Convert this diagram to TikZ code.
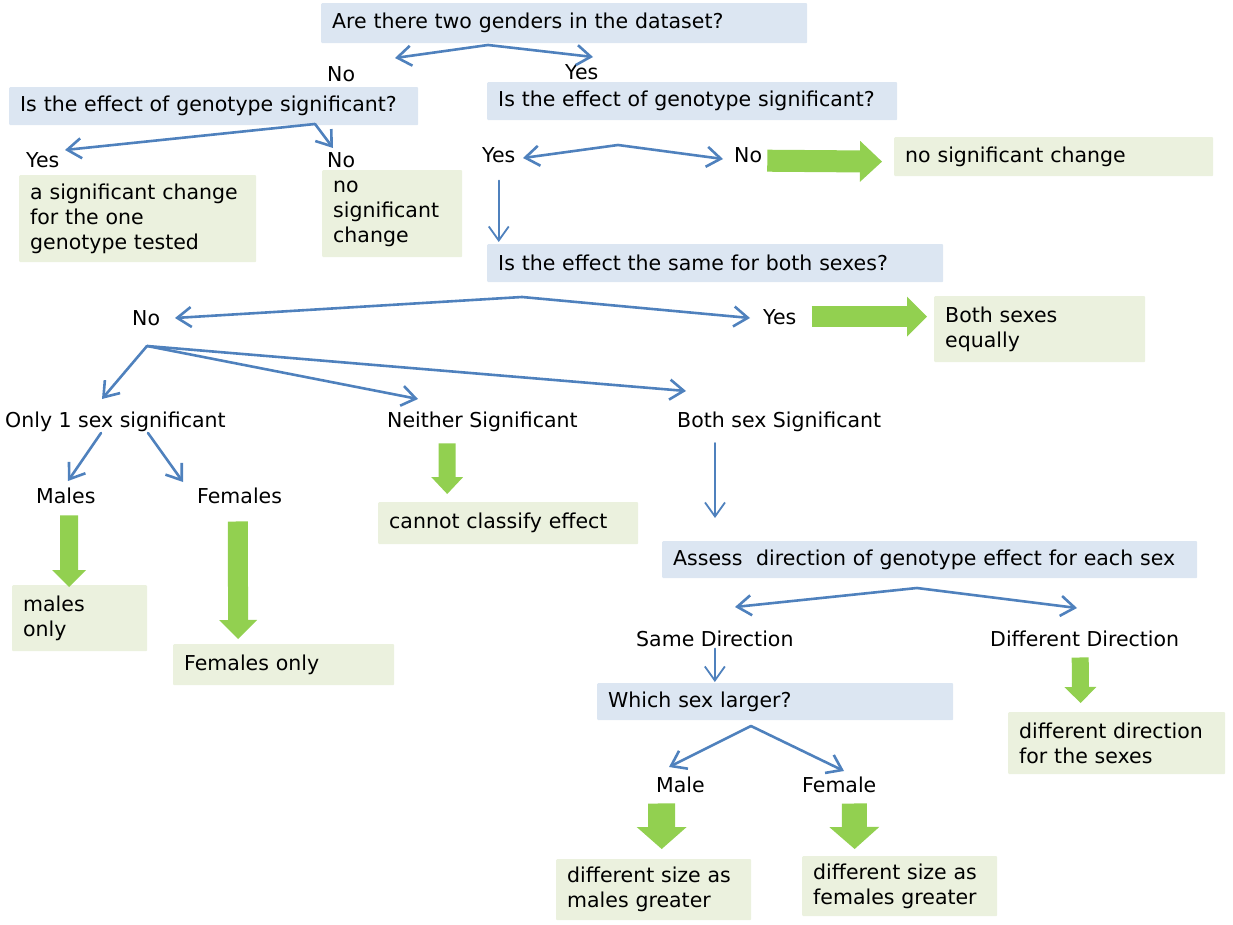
\documentclass[tikz,border=0pt]{standalone}
\usepackage{fontspec}
\setmainfont{DejaVu Sans}
\usetikzlibrary{arrows.meta}

\definecolor{qblue}{HTML}{DCE6F2}
\definecolor{agreen}{HTML}{EBF1DE}
\definecolor{linkblue}{HTML}{4F81BD}
\definecolor{fatgreen}{HTML}{92D050}

\begin{document}
\begin{tikzpicture}
         [x=1pt,y=-1pt,font=\fontsize{20.5}{25}\selectfont,
          box/.style={anchor=north west,inner xsep=11pt,inner ysep=0pt,align=left,rounded corners=1pt},
          qbox/.style={box,fill=qblue},
          abox/.style={box,fill=agreen},
          lab/.style={anchor=base west,inner sep=0pt},
          link/.style={draw=linkblue,line width=2.6pt,line cap=round,-{Straight Barb[length=14pt,width=20pt]}},
          thinlink/.style={link,line width=1.8pt},
          bigarrow/.style n args={3}{draw=fatgreen,line width=#1,-{Triangle[width=#2,length=#3,line width=0pt]}}]
         \useasboundingbox (0,0) rectangle (1233,925);
         % questions
         \node[qbox,text width=464pt,minimum height=40pt] (q1) at (321,3) {Are there two genders in the dataset?};
         \node[qbox,text width=387pt,minimum height=38pt] (q2) at (9,87) {Is the effect of genotype significant?};
         \node[qbox,text width=388pt,minimum height=38pt] (q3) at (487,82) {Is the effect of genotype significant?};
         \node[qbox,text width=434pt,minimum height=38pt] (q4) at (487,244) {Is the effect the same for both sexes?};
         \node[qbox,text width=513pt,minimum height=37pt] (q5) at (662,541) {Assess\ \ direction of genotype effect for each sex};
         \node[qbox,text width=334pt,minimum height=37pt] (q6) at (597,683) {Which sex larger?};
         % outcomes
         \node[abox,text width=215pt,minimum height=87pt] (a1) at (19,175) {a significant change\\for the one\\genotype tested};
         \node[abox,text width=118pt,minimum height=87pt] (a2) at (322,170) {no\\significant\\change};
         \node[abox,text width=297pt,minimum height=39pt] (a3) at (894,137) {no significant change};
         \node[abox,text width=189pt,minimum height=66pt] (a4) at (934,296) {Both sexes\\equally};
         \node[abox,text width=238pt,minimum height=42pt] (a5) at (378,502) {cannot classify effect};
         \node[abox,text width=113pt,minimum height=66pt] (a6) at (12,585) {males\\only};
         \node[abox,text width=199pt,minimum height=41pt] (a7) at (173,644) {Females only};
         \node[abox,text width=195pt,minimum height=62pt] (a8) at (1008,712) {different direction\\for the sexes};
         \node[abox,text width=173pt,minimum height=61pt] (a9) at (556,859) {different size as\\males greater};
         \node[abox,text width=173pt,minimum height=60pt] (a10) at (802,856) {different size as\\females greater};
         % answers
         \node[lab] (no1) at (327,82) {No};
         \node[lab] (yes1) at (565,80) {Yes};
         \node[lab] (yes2) at (26,168) {Yes};
         \node[lab] (no2) at (327,168) {No};
         \node[lab] (yes3) at (482,163) {Yes};
         \node[lab] (no3) at (734,163) {No};
         \node[lab] (no4) at (132,325) {No};
         \node[lab] (yes4) at (763,324) {Yes};
         \node[lab] (only1) at (5,427) {Only 1 sex significant};
         \node[lab] (neither) at (387,427) {Neither Significant};
         \node[lab] (both) at (677,427) {Both sex Significant};
         \node[lab] (males) at (36,503) {Males};
         \node[lab] (females) at (197,503) {Females};
         \node[lab] (same) at (636,646) {Same Direction};
         \node[lab] (diffdir) at (990,646) {Different Direction};
         \node[lab] (male) at (656,792) {Male};
         \node[lab] (female) at (802,792) {Female};
         % forks
         \coordinate (k1) at (488,45);   \coordinate (k1a) at (395,58);  \coordinate (k1b) at (593,57);
         \coordinate (k2) at (315,124);  \coordinate (k2a) at (65,150);  \coordinate (k2b) at (333,148);
         \coordinate (k3) at (618,145);  \coordinate (k3a) at (523,158); \coordinate (k3b) at (723,159);
         \coordinate (k4) at (522,297);  \coordinate (k4a) at (175,318); \coordinate (k4b) at (750,318);
         \coordinate (k5) at (147,346);  \coordinate (k5a) at (102,399); \coordinate (k5b) at (418,399);
         \coordinate (k5c) at (686,391);
         \coordinate (s1) at (101,433);  \coordinate (s1a) at (68,481);
         \coordinate (s2) at (148,433);  \coordinate (s2a) at (183,482);
         \coordinate (b1) at (715,443);  \coordinate (b1a) at (715,518);
         \coordinate (k6) at (917,588);  \coordinate (k6a) at (735,607); \coordinate (k6b) at (1077,608);
         \coordinate (k7) at (751,726);  \coordinate (k7a) at (669,767); \coordinate (k7b) at (844,771);
         \foreach \from/\to in {k1/k1a, k1/k1b, k2/k2a, k2/k2b, k3/k3a, k3/k3b, k4/k4a, k4/k4b,
                                k5/k5a, k5/k5b, k5/k5c, s1/s1a, s2/s2a, k6/k6a, k6/k6b, k7/k7a, k7/k7b}
            \draw[link] (\from) -- (\to);
         \draw[thinlink,shorten <=17pt,shorten >=2pt] (yes3.south) -- (yes3.south |- q4.north);
         \draw[thinlink] (b1) -- (b1a);
         \draw[thinlink,shorten <=2pt,shorten >=1pt] (same.south) -- (same.south |- q6.north);
         % green arrows
         \draw[bigarrow={22pt}{41pt}{22pt},shorten <=5pt,shorten >=12pt] ([yshift=-5pt]no3.east) -- ([yshift=-5pt]a3.west);
         \draw[bigarrow={21pt}{40pt}{20pt},shorten <=15pt,shorten >=7pt] (yes4.east) -- (yes4.east -| a4.west);
         \draw[bigarrow={18pt}{34pt}{17pt},shorten <=12pt,shorten >=-2pt] ([xshift=3.4pt]males.south) -- ([xshift=-10.5pt]a6.north);
         \draw[bigarrow={20pt}{38pt}{19pt},shorten <=18pt,shorten >=5pt] ([xshift=-1.9pt]females.south) -- ([xshift=-45.5pt]a7.north);
         \draw[bigarrow={17pt}{32pt}{17pt},shorten <=12pt,shorten >=8pt] ([xshift=-35.2pt]neither.south) -- ([xshift=-61pt]a5.north);
         \draw[bigarrow={17pt}{32pt}{16pt},shorten <=11pt,shorten >=9pt] ([xshift=-4.6pt]diffdir.south) -- ([xshift=-36pt]a8.north);
         \draw[bigarrow={27pt}{50pt}{22pt},shorten <=11pt,shorten >=10pt] ([xshift=-18.8pt]male.south) -- ([xshift=8pt]a9.north);
         \draw[bigarrow={25pt}{50pt}{22pt},shorten <=11pt,shorten >=7pt] ([xshift=14.9pt]female.south) -- ([xshift=-45pt]a10.north);
       \end{tikzpicture}
\end{document}
